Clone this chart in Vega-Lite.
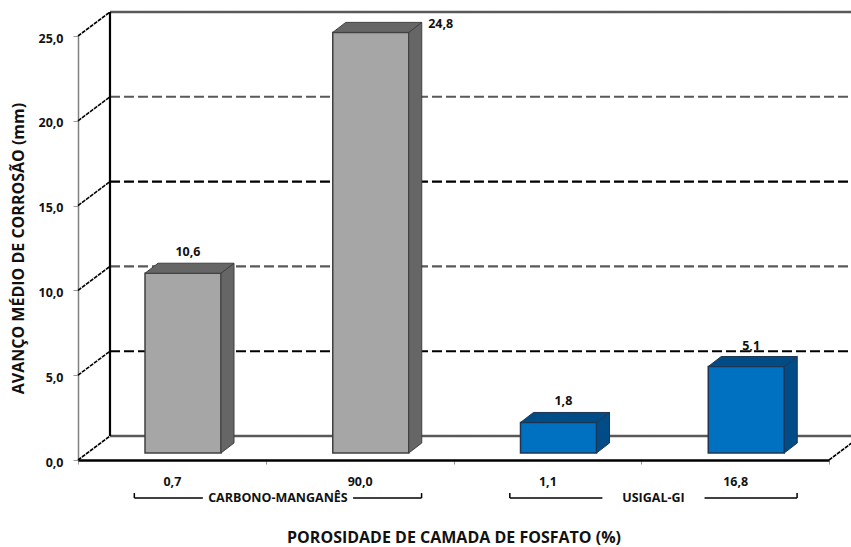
{
  "$schema": "https://vega.github.io/schema/vega-lite/v6.json",
  "width": 751,
  "height": 424,
  "autosize": "none",
  "padding": {"left": 78, "top": 36, "right": 22, "bottom": 87},
  "background": "white",
  "config": {
    "view": {"stroke": null},
    "font": "Open Sans",
    "locale": {"number": {"decimal": ",", "thousands": ".", "grouping": [3], "currency": ["", ""]}}
  },
  "params": [
    {"name": "profX", "value": 0.1704},
    {"name": "profY", "value": 1.415},
    {"name": "esq", "value": 0.3569},
    {"name": "larg", "value": 0.4048},
    {"name": "base", "value": 0.4127},
    {"name": "dx", "value": 0.0692},
    {"name": "dy", "value": 0.59}
  ],
  "datasets": {
    "ensaios": [
      {"ordem": 1, "porosidade": "0,7", "grupo": "CARBONO-MANGANÊS", "valor": 10.6},
      {"ordem": 2, "porosidade": "90,0", "grupo": "CARBONO-MANGANÊS", "valor": 24.8},
      {"ordem": 3, "porosidade": "1,1", "grupo": "USIGAL-GI", "valor": 1.8},
      {"ordem": 4, "porosidade": "16,8", "grupo": "USIGAL-GI", "valor": 5.1}
    ],
    "grade": [{"nivel": 0}, {"nivel": 5}, {"nivel": 10}, {"nivel": 15}, {"nivel": 20}, {"nivel": 25}]
  },
  "data": {"name": "ensaios"},
  "resolve": {"scale": {"x": "independent"}},
  "layer": [
    {
      "description": "Eixo de categorias e rótulos de valor",
      "layer": [
        {
          "transform": [{"filter": "datum.valor < 20"}],
          "mark": {"type": "text", "fontWeight": "bold", "fontSize": 12.5, "color": "#111", "xOffset": 16, "yOffset": -28, "baseline": "middle"},
          "encoding": {
            "x": {
              "field": "porosidade",
              "type": "nominal",
              "sort": null,
              "scale": {"domain": ["0,7", "90,0", "1,1", "16,8"], "paddingInner": 0, "paddingOuter": 0},
              "axis": {
                "title": "POROSIDADE DE CAMADA DE FOSFATO (%)",
                "titleFontSize": 16,
                "titleFontWeight": "bold",
                "titleColor": "#111",
                "titlePadding": 42,
                "labelAngle": 0,
                "labelFontSize": 12.5,
                "labelFontWeight": "bold",
                "labelColor": "#111",
                "labelPadding": 11,
                "bandPosition": 0,
                "tickBand": "extent",
                "tickSize": 4,
                "tickColor": "#999999",
                "domainColor": "#000000",
                "domainWidth": 2.5,
                "grid": false,
                "zindex": 1
              }
            },
            "y": {
              "field": "valor",
              "type": "quantitative",
              "scale": {"domain": [0, 25], "nice": false, "zero": false},
              "axis": {
                "title": "AVANÇO MÉDIO DE CORROSÃO (mm)",
                "titleFontSize": 16,
                "titleFontWeight": "bold",
                "titleColor": "#111",
                "titlePadding": 11,
                "values": [0, 5, 10, 15, 20, 25],
                "format": ".1f",
                "labelFontSize": 12.5,
                "labelFontWeight": "bold",
                "labelColor": "#111",
                "labelPadding": 10,
                "labelOffset": 2,
                "tickSize": 5,
                "tickColor": "#999999",
                "domainColor": "#808080",
                "domainWidth": 1.5,
                "grid": false
              }
            },
            "text": {"field": "valor", "type": "quantitative", "format": ".1f"}
          }
        },
        {
          "transform": [{"filter": "datum.valor >= 20"}],
          "mark": {"type": "text", "fontWeight": "bold", "fontSize": 12.5, "color": "#111", "xOffset": 81, "yOffset": -15, "baseline": "middle"},
          "encoding": {
            "x": {"field": "porosidade", "type": "nominal", "sort": null},
            "y": {"field": "valor", "type": "quantitative"},
            "text": {"field": "valor", "type": "quantitative", "format": ".1f"}
          }
        }
      ]
    },
    {
      "description": "Paredes, barras em perspectiva e chaves dos grupos",
      "encoding": {
        "x": {"type": "quantitative", "scale": {"domain": [0, 4], "nice": false, "zero": false}, "axis": null}
      },
      "layer": [
        {
          "data": {"name": "grade"},
          "transform": [
            {"calculate": "datum.nivel + profY", "as": "fundo"},
            {"calculate": "profX", "as": "xIni"},
            {"calculate": "profX + 4", "as": "xFim"}
          ],
          "mark": {"type": "rule"},
          "encoding": {
            "x": {"field": "xIni", "type": "quantitative"},
            "x2": {"field": "xFim"},
            "y": {"field": "fundo", "type": "quantitative"},
            "color": {
              "condition": {"test": "datum.nivel == 5 || datum.nivel == 15", "value": "#000000"},
              "value": "#595959"
            },
            "strokeDash": {
              "condition": {"test": "datum.nivel > 0 && datum.nivel < 25", "value": [10, 4]},
              "value": [1, 0]
            },
            "strokeWidth": {
              "condition": {"test": "datum.nivel > 0 && datum.nivel < 25", "value": 2.1},
              "value": 2.4
            }
          }
        },
        {
          "data": {"name": "grade"},
          "transform": [
            {"calculate": "datum.nivel + profY", "as": "fundo"},
            {"calculate": "0", "as": "xIni"},
            {"calculate": "profX", "as": "xFim"}
          ],
          "mark": {"type": "rule", "strokeWidth": 1.6, "color": "#000000", "strokeDash": [4, 1]},
          "encoding": {
            "x": {"field": "xIni", "type": "quantitative"},
            "x2": {"field": "xFim"},
            "y": {"field": "nivel", "type": "quantitative"},
            "y2": {"field": "fundo"}
          }
        },
        {
          "data": {"name": "grade"},
          "transform": [
            {"filter": "datum.nivel == 0"},
            {"calculate": "profY", "as": "fundo"},
            {"calculate": "4", "as": "xIni"},
            {"calculate": "4 + profX", "as": "xFim"}
          ],
          "mark": {"type": "rule", "strokeWidth": 1.6, "color": "#000000", "strokeDash": [4, 1]},
          "encoding": {
            "x": {"field": "xIni", "type": "quantitative"},
            "x2": {"field": "xFim"},
            "y": {"field": "nivel", "type": "quantitative"},
            "y2": {"field": "fundo"}
          }
        },
        {
          "data": {"name": "grade"},
          "transform": [
            {"filter": "datum.nivel == 25"},
            {"calculate": "profX", "as": "xIni"},
            {"calculate": "profY", "as": "fundo"},
            {"calculate": "datum.nivel + profY", "as": "topo"}
          ],
          "mark": {"type": "rule", "strokeWidth": 2.2, "color": "#000000"},
          "encoding": {
            "x": {"field": "xIni", "type": "quantitative"},
            "y": {"field": "fundo", "type": "quantitative"},
            "y2": {"field": "topo"}
          }
        },
        {
          "description": "Face frontal",
          "transform": [
            {"calculate": "datum.ordem - 1 + esq", "as": "esquerda"},
            {"calculate": "datum.ordem - 1 + esq + larg", "as": "direita"},
            {"calculate": "datum.valor + base", "as": "topo"},
            {"calculate": "base", "as": "pe"}
          ],
          "mark": {"type": "rect", "strokeWidth": 1.5},
          "encoding": {
            "x": {"field": "esquerda", "type": "quantitative"},
            "x2": {"field": "direita"},
            "y": {"field": "topo", "type": "quantitative"},
            "y2": {"field": "pe"},
            "fill": {"condition": {"test": "datum.grupo == 'USIGAL-GI'", "value": "#0070C0"}, "value": "#A6A6A6"},
            "stroke": {"condition": {"test": "datum.grupo == 'USIGAL-GI'", "value": "#1F3552"}, "value": "#404040"}
          }
        },
        {
          "description": "Face lateral",
          "transform": [
            {"calculate": "[0, 1]", "as": "t"},
            {"flatten": ["t"]},
            {"calculate": "datum.ordem - 1 + esq + larg + datum.t * dx", "as": "xLado"},
            {"calculate": "datum.valor + base + datum.t * dy", "as": "topo"},
            {"calculate": "base + datum.t * dy", "as": "pe"}
          ],
          "mark": {"type": "area", "orient": "vertical", "strokeWidth": 1},
          "encoding": {
            "x": {"field": "xLado", "type": "quantitative"},
            "y": {"field": "topo", "type": "quantitative"},
            "y2": {"field": "pe"},
            "detail": {"field": "ordem", "type": "nominal"},
            "fill": {"condition": {"test": "datum.grupo == 'USIGAL-GI'", "value": "#004C86"}, "value": "#666666"},
            "stroke": {"condition": {"test": "datum.grupo == 'USIGAL-GI'", "value": "#1F3552"}, "value": "#404040"}
          }
        },
        {
          "description": "Face superior",
          "transform": [
            {"calculate": "[0, 1]", "as": "t"},
            {"flatten": ["t"]},
            {"calculate": "datum.ordem - 1 + esq + datum.t * dx", "as": "xEsq"},
            {"calculate": "datum.ordem - 1 + esq + larg + datum.t * dx", "as": "xDir"},
            {"calculate": "datum.valor + base + datum.t * dy", "as": "topo"}
          ],
          "mark": {"type": "area", "orient": "horizontal", "strokeWidth": 1},
          "encoding": {
            "x": {"field": "xEsq", "type": "quantitative"},
            "x2": {"field": "xDir"},
            "y": {"field": "topo", "type": "quantitative"},
            "detail": {"field": "ordem", "type": "nominal"},
            "fill": {"condition": {"test": "datum.grupo == 'USIGAL-GI'", "value": "#004C86"}, "value": "#666666"},
            "stroke": {"condition": {"test": "datum.grupo == 'USIGAL-GI'", "value": "#1F3552"}, "value": "#404040"}
          }
        },
        {
          "description": "Chaves sob o eixo com o nome de cada grupo",
          "transform": [
            {"aggregate": [{"op": "min", "field": "ordem", "as": "primeiro"}, {"op": "max", "field": "ordem", "as": "ultimo"}], "groupby": ["grupo"]},
            {"calculate": "datum.primeiro - 1 + 0.3", "as": "inicio"},
            {"calculate": "datum.ultimo - 1 + 0.83", "as": "fim"},
            {"calculate": "(datum.inicio + datum.fim) / 2", "as": "centro"},
            {"calculate": "datum.grupo == 'USIGAL-GI' ? 0.272 : 0.4", "as": "folga"},
            {"calculate": "datum.centro - datum.folga", "as": "corteEsq"},
            {"calculate": "datum.centro + datum.folga", "as": "corteDir"},
            {"calculate": "-2.24", "as": "linha"},
            {"calculate": "-1.95", "as": "ponta"}
          ],
          "layer": [
            {
              "mark": {"type": "rule", "strokeWidth": 1.5, "color": "#000000"},
              "encoding": {
                "x": {"field": "inicio", "type": "quantitative"},
                "x2": {"field": "corteEsq"},
                "y": {"field": "linha", "type": "quantitative"}
              }
            },
            {
              "mark": {"type": "rule", "strokeWidth": 1.5, "color": "#000000"},
              "encoding": {
                "x": {"field": "corteDir", "type": "quantitative"},
                "x2": {"field": "fim"},
                "y": {"field": "linha", "type": "quantitative"}
              }
            },
            {
              "mark": {"type": "rule", "strokeWidth": 1.5, "color": "#000000"},
              "encoding": {
                "x": {"field": "inicio", "type": "quantitative"},
                "y": {"field": "linha", "type": "quantitative"},
                "y2": {"field": "ponta"}
              }
            },
            {
              "mark": {"type": "rule", "strokeWidth": 1.5, "color": "#000000"},
              "encoding": {
                "x": {"field": "fim", "type": "quantitative"},
                "y": {"field": "linha", "type": "quantitative"},
                "y2": {"field": "ponta"}
              }
            },
            {
              "mark": {"type": "text", "fontWeight": "bold", "fontSize": 12.5, "color": "#111", "baseline": "middle"},
              "encoding": {
                "x": {"field": "centro", "type": "quantitative"},
                "y": {"field": "linha", "type": "quantitative"},
                "text": {"field": "grupo", "type": "nominal"}
              }
            }
          ]
        }
      ]
    }
  ]
}
